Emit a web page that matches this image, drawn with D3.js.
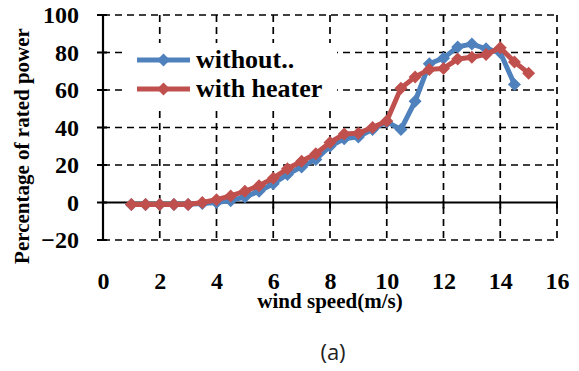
<!DOCTYPE html>
<html>
<head>
<meta charset="utf-8">
<script src="https://cdn.jsdelivr.net/npm/d3@7"></script>
<style>
  body { margin: 0; background: #fff; }
  svg { display: block; }
</style>
</head>
<body>
<div id="chart"></div>
<script>
// wind speed bins (m/s)
const windSpeed = [1, 1.5, 2, 2.5, 3, 3.5, 4, 4.5, 5, 5.5, 6, 6.5, 7, 7.5, 8, 8.5, 9, 9.5,
  10, 10.5, 11, 11.5, 12, 12.5, 13, 13.5, 14, 14.5, 15];
// percentage of rated power
const withoutHeater = [-1, -1, -1, -1, -1, -0.5, 0, 1, 3, 6, 10, 15, 19, 23, 30, 34, 35, 39,
  43, 39, 54, 74, 77, 83, 84.5, 82, 80, 63];
const withHeater = [-1, -1, -1, -1, -1, 0, 1.5, 3.5, 6, 9, 13, 18, 22, 26, 32, 36.5, 37, 40,
  43.5, 61, 67, 71, 71.5, 76.5, 77.5, 79, 82.5, 75, 69];
const seriesNames = ['without..', 'with heater'];
const xTicks = [0, 2, 4, 6, 8, 10, 12, 14, 16];
const yTicks = [-20, 0, 20, 40, 60, 80, 100];

const W = 579, H = 371;
const serif = '"Liberation Serif", "Times New Roman", serif';
const colours = ['#4F81BD', '#C0504D'];

const svg = d3.select('#chart').append('svg')
    .attr('width', W)
    .attr('height', H);

const x = d3.scaleLinear().domain([0, 16]).range([103, 557]);
const y = d3.scaleLinear().domain([-20, 100]).range([240, 15]);

// dashed grid
svg.append('g').selectAll('line')
    .data(xTicks.filter(d => d !== 0))
  .join('line')
    .attr('x1', d => x(d)).attr('x2', d => x(d))
    .attr('y1', y(100)).attr('y2', y(-20))
    .attr('stroke', '#000')
    .attr('stroke-width', 1.7)
    .attr('stroke-dasharray', '7,5');

svg.append('g').selectAll('line')
    .data(yTicks.filter(d => d !== 0))
  .join('line')
    .attr('x1', x(0)).attr('x2', x(16))
    .attr('y1', d => y(d)).attr('y2', d => y(d))
    .attr('stroke', '#000')
    .attr('stroke-width', 1.7)
    .attr('stroke-dasharray', '7,5');

// y axis labels
const yAxis = svg.append('g')
    .attr('transform', 'translate(' + x(0) + ',0)')
    .call(d3.axisLeft(y).tickValues(yTicks).tickSize(0).tickPadding(24));
yAxis.select('.domain').remove();
yAxis.selectAll('text')
    .style('font-family', serif)
    .style('font-weight', 'bold')
    .style('font-size', '24px')
    .attr('fill', '#000');

// x axis labels sit below the plot
const xAxis = svg.append('g')
    .attr('transform', 'translate(0,' + y(-20) + ')')
    .call(d3.axisBottom(x).tickValues(xTicks).tickSize(0).tickPadding(32));
xAxis.select('.domain').remove();
xAxis.selectAll('text')
    .style('font-family', serif)
    .style('font-weight', 'bold')
    .style('font-size', '24px')
    .attr('fill', '#000');

// solid axis lines with crossing ticks
svg.append('line')
    .attr('x1', x(0)).attr('x2', x(0))
    .attr('y1', y(100) - 1).attr('y2', y(-20) + 1)
    .attr('stroke', '#000').attr('stroke-width', 2.2);
svg.append('line')
    .attr('x1', x(0)).attr('x2', x(16))
    .attr('y1', y(0)).attr('y2', y(0))
    .attr('stroke', '#000').attr('stroke-width', 2.2);
svg.append('g').selectAll('line')
    .data(yTicks)
  .join('line')
    .attr('x1', x(0) - 6).attr('x2', x(0) + 4)
    .attr('y1', d => y(d)).attr('y2', d => y(d))
    .attr('stroke', '#000').attr('stroke-width', 2);
svg.append('g').selectAll('line')
    .data(xTicks)
  .join('line')
    .attr('x1', d => x(d)).attr('x2', d => x(d))
    .attr('y1', y(0) - 1).attr('y2', y(0) + 6)
    .attr('stroke', '#000').attr('stroke-width', 2);

// series
const diamond = r => 'M0,' + (-r) + 'L' + r + ',0L0,' + r + 'L' + (-r) + ',0Z';
const line = d3.line()
    .x(d => x(d[0]))
    .y(d => y(d[1]));

[withoutHeater, withHeater].forEach((vals, i) => {
  const pts = vals.map((v, j) => [windSpeed[j], v]);
  const g = svg.append('g');
  g.append('path')
      .datum(pts)
      .attr('fill', 'none')
      .attr('stroke', colours[i])
      .attr('stroke-width', 5)
      .attr('stroke-linejoin', 'round')
      .attr('d', line);
  g.selectAll('path.m')
      .data(pts)
    .join('path')
      .attr('class', 'm')
      .attr('transform', d => 'translate(' + x(d[0]) + ',' + y(d[1]) + ')')
      .attr('d', diamond(6.5))
      .attr('fill', colours[i]);
});

// legend
const legend = svg.append('g');
legend.append('rect')
    .attr('x', 123).attr('y', 43)
    .attr('width', 214).attr('height', 67)
    .attr('fill', '#fff');
seriesNames.forEach((name, i) => {
  const ly = 60 + i * 29;
  legend.append('line')
      .attr('x1', 137).attr('x2', 190)
      .attr('y1', ly).attr('y2', ly)
      .attr('stroke', colours[i])
      .attr('stroke-width', 5);
  legend.append('path')
      .attr('transform', 'translate(163.5,' + ly + ')')
      .attr('d', diamond(6.5))
      .attr('fill', colours[i]);
  legend.append('text')
      .attr('x', 196).attr('y', ly)
      .attr('dy', '0.32em')
      .style('font-family', serif)
      .style('font-weight', 'bold')
      .style('font-size', '26px')
      .text(name);
});

// axis titles
svg.append('text')
    .attr('x', 330).attr('y', 308)
    .attr('text-anchor', 'middle')
    .style('font-family', serif)
    .style('font-weight', 'bold')
    .style('font-size', '21px')
    .text('wind speed(m/s)');

svg.append('text')
    .attr('transform', 'translate(29,146) rotate(-90)')
    .attr('text-anchor', 'middle')
    .style('font-family', serif)
    .style('font-weight', 'bold')
    .style('font-size', '21px')
    .text('Percentage of rated power');

svg.append('text')
    .attr('x', 333).attr('y', 360)
    .attr('text-anchor', 'middle')
    .style('font-family', '"Open Sans", "Noto Sans", sans-serif')
    .style('font-size', '22px')
    .attr('fill', '#222')
    .text('(a)');
</script>
</body>
</html>
